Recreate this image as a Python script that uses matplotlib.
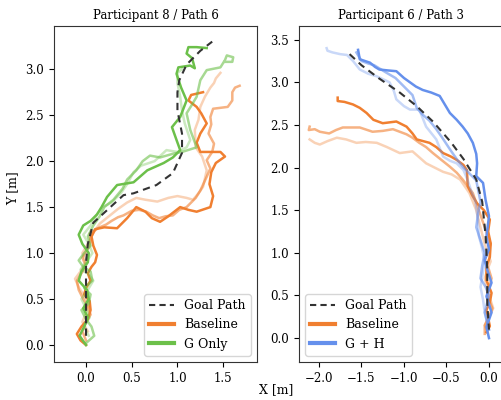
import numpy as np
import matplotlib
matplotlib.use("Agg")
import matplotlib.pyplot as plt
from matplotlib.lines import Line2D

plt.rcParams['font.family'] = 'DejaVu Serif'

ORANGE = '#F07F30'
GREEN = '#6CC04A'
BLUE = '#6590EC'
GOAL = '#333333'

# ---- Participant 8 / Path 6 ----
goal_8_x = [0.0, 0.0, 0.0, 0.02, 0.08, 0.19, 0.41, 0.52, 0.77, 0.95, 1.05, 1.05, 1.0, 1.0, 1.02, 1.1, 1.25, 1.38]
goal_8_y = [0.1, 0.5, 0.9, 1.1, 1.33, 1.43, 1.63, 1.65, 1.74, 1.87, 2.09, 2.3, 2.55, 2.75, 2.88, 3.05, 3.2, 3.3]

base_8 = [
    # bold
    ([0.0, -0.06, -0.1, -0.05, 0.02, 0.05, 0.04, -0.02, 0.0, 0.05, 0.02, 0.06, 0.1, 0.12, 0.08, 0.06,
      0.1, 0.2, 0.34, 0.45, 0.55, 0.65, 0.72, 0.81, 0.9, 1.03, 1.12, 1.21, 1.3, 1.36, 1.39, 1.35,
      1.37, 1.42, 1.52, 1.47, 1.39, 1.25, 1.21, 1.25, 1.32, 1.26, 1.21, 1.12, 1.15, 1.28],
     [0.0, 0.05, 0.12, 0.2, 0.28, 0.38, 0.48, 0.55, 0.62, 0.7, 0.78, 0.85, 0.9, 0.98, 1.08, 1.18,
      1.26, 1.28, 1.27, 1.38, 1.5, 1.45, 1.38, 1.34, 1.4, 1.5, 1.47, 1.45, 1.48, 1.5, 1.62, 1.75,
      1.88, 1.98, 2.05, 2.1, 2.1, 2.1, 2.2, 2.3, 2.41, 2.52, 2.59, 2.66, 2.72, 2.75]),
    # mid
    ([0.0, -0.04, 0.0, 0.05, 0.02, -0.03, -0.08, -0.1, -0.05, 0.0, -0.04, 0.02, 0.05, 0.04, 0.1, 0.15,
      0.22, 0.28, 0.35, 0.41, 0.5, 0.58, 0.66, 0.73, 0.8, 0.87, 0.95, 1.02, 1.1, 1.14, 1.2, 1.25,
      1.32, 1.36, 1.32, 1.38, 1.4, 1.34, 1.37, 1.36, 1.39, 1.47, 1.55, 1.6, 1.6, 1.63, 1.68],
     [0.05, 0.15, 0.25, 0.33, 0.42, 0.5, 0.6, 0.7, 0.78, 0.86, 0.95, 1.05, 1.12, 1.21, 1.25, 1.28,
      1.31, 1.35, 1.39, 1.41, 1.46, 1.47, 1.45, 1.41, 1.38, 1.4, 1.41, 1.47, 1.5, 1.54, 1.6, 1.68,
      1.83, 1.92, 2.01, 2.1, 2.19, 2.3, 2.4, 2.48, 2.57, 2.58, 2.59, 2.66, 2.75, 2.8, 2.82]),
    # faint
    ([0.02, -0.04, 0.0, 0.03, -0.03, -0.08, -0.12, -0.06, 0.0, -0.04, 0.02, 0.08, 0.15, 0.25, 0.35, 0.45,
      0.55, 0.65, 0.78, 0.9, 1.0, 1.1, 1.17, 1.23, 1.28, 1.32, 1.27, 1.2, 1.19, 1.23, 1.25,
      1.3, 1.36, 1.4, 1.42, 1.47],
     [0.15, 0.25, 0.35, 0.45, 0.55, 0.63, 0.72, 0.8, 0.9, 1.0, 1.1, 1.22, 1.32, 1.4, 1.48, 1.55,
      1.6, 1.58, 1.56, 1.6, 1.62, 1.6, 1.58, 1.65, 1.72, 1.9, 2.05, 2.15, 2.34, 2.45, 2.59,
      2.7, 2.8, 2.85, 2.9, 2.96]),
]

gonly_8 = [
    ([0.0, -0.07, -0.02, 0.02, -0.03, 0.03, 0.01, -0.08, -0.05, 0.02, 0.03, -0.04, -0.08, -0.03,
      0.05, 0.12, 0.17, 0.23, 0.34, 0.52, 0.67, 0.85, 0.95, 1.03, 0.99, 0.94, 1.03, 1.1, 1.04,
      0.99, 1.01, 1.14, 1.19, 1.16, 1.1, 1.12, 1.21, 1.32],
     [0.0, 0.1, 0.2, 0.3, 0.4, 0.5, 0.6, 0.7, 0.8, 0.9, 1.0, 1.1, 1.2, 1.3,
      1.35, 1.42, 1.5, 1.61, 1.74, 1.77, 1.9, 1.98, 2.04, 2.12, 2.23, 2.37, 2.48, 2.66, 2.8,
      2.95, 3.02, 3.04, 3.01, 3.12, 3.17, 3.24, 3.24, 3.23]),
    ([0.0, 0.09, 0.06, 0.0, -0.05, 0.03, 0.05, -0.02, 0.07, 0.05, -0.03, -0.08, -0.02, 0.05, 0.02,
      0.08, 0.15, 0.2, 0.3, 0.4, 0.45, 0.55, 0.62, 0.7, 0.81, 0.95, 1.05, 1.21, 1.14, 1.1, 1.15,
      1.21, 1.25, 1.32, 1.47, 1.52, 1.54, 1.61, 1.6, 1.52],
     [0.02, 0.1, 0.2, 0.28, 0.38, 0.45, 0.55, 0.62, 0.7, 0.8, 0.85, 0.92, 1.0, 1.08, 1.18,
      1.3, 1.4, 1.5, 1.58, 1.7, 1.8, 1.9, 2.0, 2.06, 2.04, 2.08, 2.1, 2.15, 2.34, 2.52, 2.6,
      2.7, 2.88, 2.99, 3.02, 3.1, 3.15, 3.13, 3.08, 3.08]),
    ([0.03, -0.02, 0.04, 0.0, -0.05, 0.02, 0.08, 0.02, -0.06, 0.0, 0.07, 0.03, -0.03, 0.05, 0.12,
      0.18, 0.28, 0.38, 0.45, 0.52, 0.6, 0.75, 0.88, 1.0, 1.1, 1.14, 1.1, 1.08, 1.05, 1.03, 1.0,
      1.0, 1.05],
     [0.1, 0.2, 0.3, 0.4, 0.5, 0.6, 0.7, 0.78, 0.82, 0.9, 1.0, 1.1, 1.2, 1.3, 1.42,
      1.5, 1.55, 1.65, 1.75, 1.88, 1.95, 2.0, 2.12, 2.1, 2.15, 2.23, 2.35, 2.41, 2.55, 2.7, 2.85,
      2.96, 3.0]),
]

# ---- Participant 6 / Path 3 ----
goal_6_x = [-1.64, -1.5, -1.3, -1.05, -0.85, -0.66, -0.45, -0.3, -0.15, -0.08, -0.04, -0.02, -0.02, 0.0]
goal_6_y = [3.33, 3.2, 3.05, 2.88, 2.72, 2.54, 2.3, 2.1, 1.86, 1.6, 1.2, 0.8, 0.4, 0.1]

base_6 = [
    ([-1.78, -1.78, -1.7, -1.6, -1.52, -1.44, -1.36, -1.25, -1.17, -1.09, -0.97, -0.9, -0.85, -0.7,
      -0.62, -0.54, -0.45, -0.38, -0.3, -0.26, -0.25, -0.2, -0.14, -0.06, 0.01, -0.01, 0.02, 0.01,
      -0.03, -0.03, 0.03, 0.01, -0.03, 0.01, -0.03],
     [2.82, 2.78, 2.77, 2.74, 2.7, 2.64, 2.56, 2.52, 2.53, 2.54, 2.48, 2.4, 2.33, 2.29,
      2.24, 2.17, 2.13, 2.09, 2.03, 1.97, 1.78, 1.68, 1.58, 1.5, 1.39, 1.25, 1.11, 0.95,
      0.84, 0.68, 0.53, 0.42, 0.33, 0.14, 0.07]),
    ([-2.11, -2.12, -2.05, -1.99, -1.88, -1.8, -1.72, -1.52, -1.37, -1.25, -1.13, -0.97, -0.9, -0.82,
      -0.74, -0.66, -0.56, -0.46, -0.38, -0.31, -0.19, -0.12, -0.05, 0.02, -0.03, -0.05, 0.0, 0.03,
      -0.02, 0.04, 0.0, -0.05, -0.05],
     [2.48, 2.44, 2.45, 2.42, 2.4, 2.44, 2.47, 2.47, 2.42, 2.43, 2.45, 2.39, 2.35, 2.29,
      2.24, 2.17, 2.09, 2.01, 1.94, 1.86, 1.7, 1.5, 1.3, 1.1, 0.98, 0.9, 0.8, 0.7,
      0.5, 0.35, 0.25, 0.15, 0.05]),
    ([-2.11, -2.05, -1.99, -1.9, -1.79, -1.68, -1.56, -1.45, -1.32, -1.2, -1.05, -0.9, -0.82, -0.74,
      -0.64, -0.54, -0.44, -0.34, -0.23, -0.15, -0.1, -0.05, 0.02, -0.02, -0.05, 0.0, 0.05, 0.0,
      -0.05, -0.02],
     [2.33, 2.29, 2.27, 2.31, 2.35, 2.33, 2.29, 2.3, 2.29, 2.24, 2.17, 2.19, 2.12, 2.05,
      2.0, 1.95, 1.92, 1.86, 1.7, 1.5, 1.3, 1.1, 0.9, 0.8, 0.7, 0.5, 0.35, 0.25,
      0.15, 0.08]),
]

gh_6 = [
    ([-1.54, -1.52, -1.46, -1.4, -1.34, -1.29, -1.2, -1.09, -1.0, -0.93, -0.86, -0.78, -0.68, -0.58,
      -0.52, -0.46, -0.38, -0.31, -0.25, -0.19, -0.15, -0.14, -0.15, -0.07, -0.04, 0.0, -0.03, 0.0,
      -0.05, -0.02, 0.03, -0.03, 0.0, 0.03, -0.03, 0.0],
     [3.38, 3.27, 3.25, 3.23, 3.18, 3.15, 3.14, 3.13, 3.05, 3.0, 2.95, 2.91, 2.88, 2.84,
      2.74, 2.64, 2.56, 2.48, 2.4, 2.29, 2.16, 2.05, 1.9, 1.82, 1.62, 1.43, 1.19, 1.04,
      0.92, 0.8, 0.65, 0.49, 0.4, 0.3, 0.13, 0.0]),
    ([-1.56, -1.5, -1.42, -1.35, -1.22, -1.1, -1.0, -0.9, -0.85, -0.78, -0.7, -0.62, -0.55, -0.45,
      -0.38, -0.3, -0.22, -0.15, -0.1, -0.13, -0.15, -0.1, -0.05, -0.08, -0.1, -0.04, 0.0, -0.05, 0.0],
     [3.35, 3.25, 3.22, 3.2, 3.12, 3.05, 2.95, 2.85, 2.7, 2.62, 2.55, 2.45, 2.35, 2.2,
      2.1, 2.0, 1.92, 1.85, 1.6, 1.45, 1.3, 1.15, 1.0, 0.85, 0.7, 0.6, 0.5, 0.3, 0.1]),
    ([-1.91, -1.9, -1.84, -1.75, -1.67, -1.6, -1.52, -1.42, -1.32, -1.17, -1.12, -1.09, -1.0, -0.93, -0.82,
      -0.78, -0.74, -0.62, -0.54, -0.46, -0.38, -0.3, -0.25, -0.2, -0.16, -0.13, -0.12, -0.08, -0.05,
      -0.1, -0.07, -0.05, 0.0],
     [3.4, 3.37, 3.35, 3.33, 3.32, 3.25, 3.15, 3.1, 3.07, 3.0, 2.9, 2.8, 2.72, 2.68, 2.68,
      2.58, 2.48, 2.33, 2.13, 2.08, 2.05, 1.97, 1.85, 1.7, 1.6, 1.39, 1.2, 1.05, 0.9,
      0.6, 0.45, 0.3, 0.1]),
]

alphas = [1.0, 0.6, 0.35]

fig = plt.figure(figsize=(5.01, 4.0), dpi=100)
ax1 = fig.add_axes([54 / 501, 38 / 400, 203 / 501, 336 / 400])
ax2 = fig.add_axes([299 / 501, 38 / 400, 203 / 501, 336 / 400])


def draw(ax, goal_x, goal_y, base, other, other_color):
    for (x, y), a in zip(base[::-1], alphas[::-1]):
        ax.plot(x, y, color=ORANGE, lw=1.8, alpha=a, solid_joinstyle='round')
    for (x, y), a in zip(other[::-1], alphas[::-1]):
        ax.plot(x, y, color=other_color, lw=1.8, alpha=a, solid_joinstyle='round')
    ax.plot(goal_x, goal_y, color=GOAL, lw=1.5, ls=(0, (3.5, 2.5)))


draw(ax1, goal_8_x, goal_8_y, base_8, gonly_8, GREEN)
draw(ax2, goal_6_x, goal_6_y, base_6, gh_6, BLUE)

ax1.set_xlim(-0.35, 1.87)
ax1.set_ylim(-0.185, 3.47)
ax1.set_xticks([0.0, 0.5, 1.0, 1.5])
ax1.set_yticks([0.0, 0.5, 1.0, 1.5, 2.0, 2.5, 3.0])
ax1.set_title("Participant 8 / Path 6", fontsize=8.5, pad=5)

ax2.set_xlim(-2.235, 0.153)
ax2.set_ylim(-0.28, 3.66)
ax2.set_xticks([-2.0, -1.5, -1.0, -0.5, 0.0])
ax2.set_yticks([0.0, 0.5, 1.0, 1.5, 2.0, 2.5, 3.0, 3.5])
ax2.set_title("Participant 6 / Path 3", fontsize=8.5, pad=5)

for ax in (ax1, ax2):
    ax.tick_params(labelsize=8.5)
    for s in ax.spines.values():
        s.set_color('#333333')

h1 = [Line2D([], [], color=GOAL, lw=1.5, ls=(0, (3, 2))),
      Line2D([], [], color=ORANGE, lw=3),
      Line2D([], [], color=GREEN, lw=3)]
ax1.legend(h1, ["Goal Path", "Baseline", "G Only"], loc='lower right', fontsize=9)

h2 = [Line2D([], [], color=GOAL, lw=1.5, ls=(0, (3, 2))),
      Line2D([], [], color=ORANGE, lw=3),
      Line2D([], [], color=BLUE, lw=3)]
ax2.legend(h2, ["Goal Path", "Baseline", "G + H"], loc='lower left', fontsize=9)

fig.text(276 / 501, 1 - 390 / 400, "X [m]", ha='center', va='center', fontsize=9)
fig.text(13 / 501, 1 - 188 / 400, "Y [m]", ha='center', va='center', rotation=90, fontsize=9)

fig.savefig("out.png", dpi=100)
